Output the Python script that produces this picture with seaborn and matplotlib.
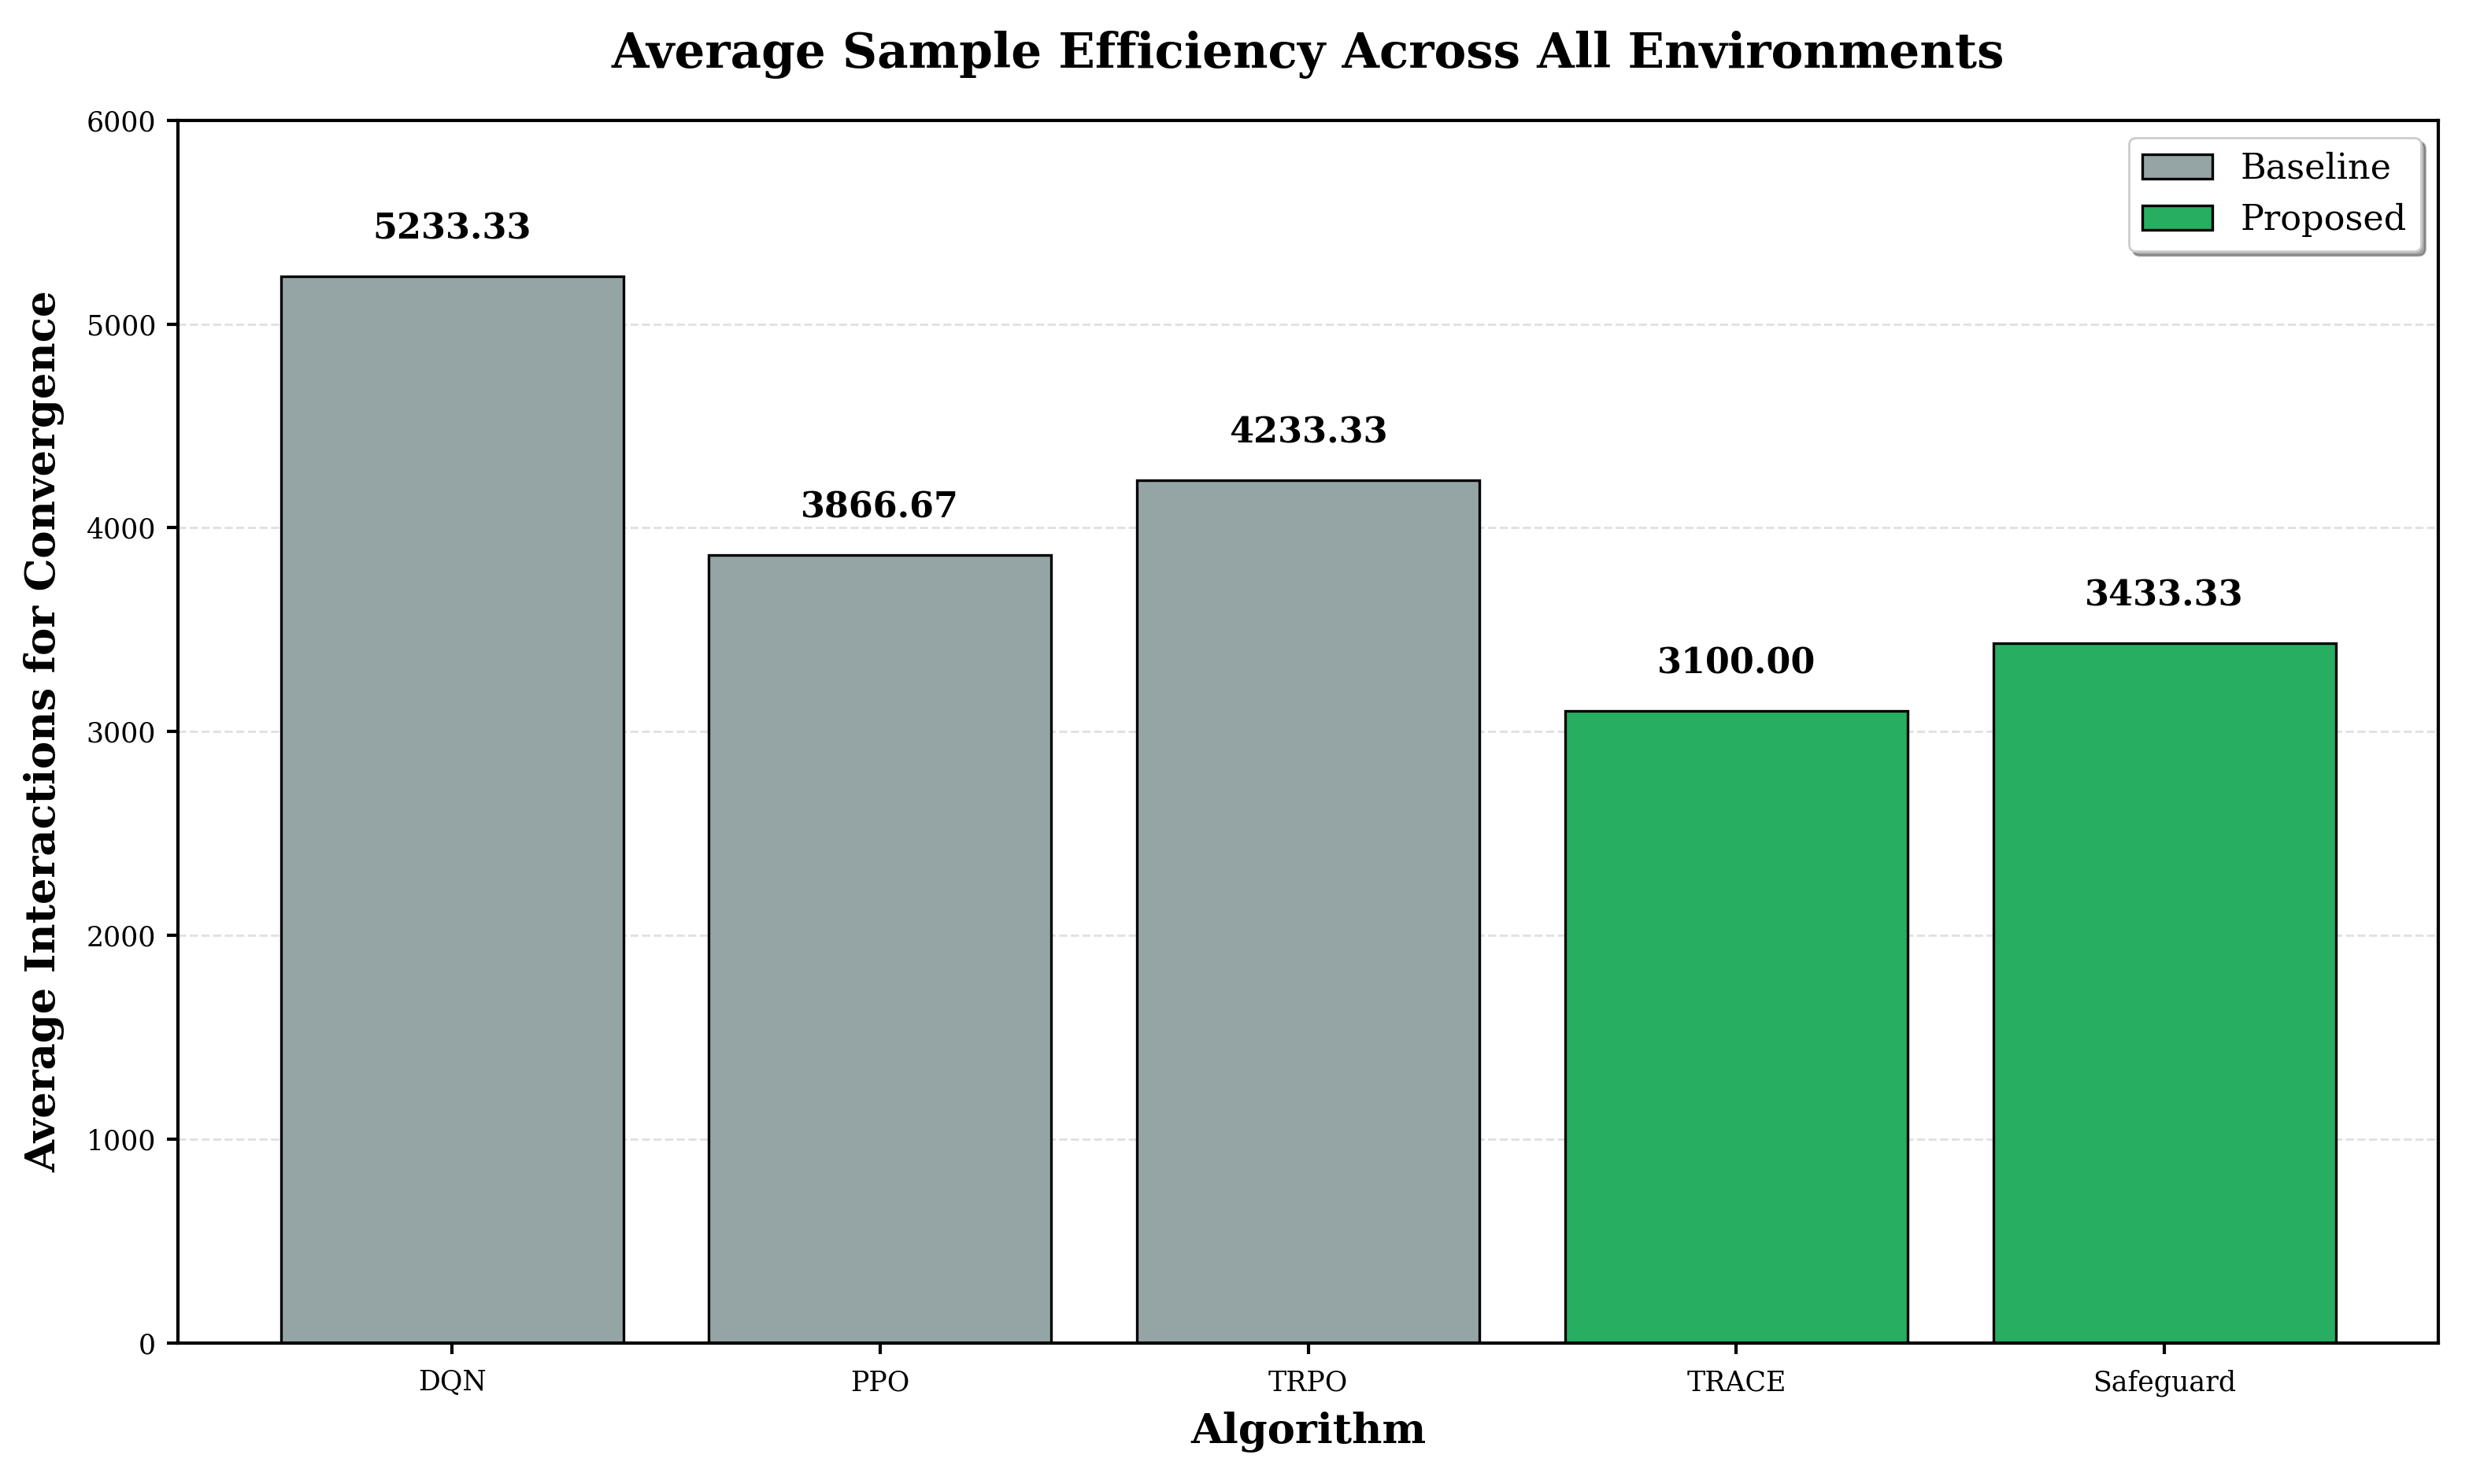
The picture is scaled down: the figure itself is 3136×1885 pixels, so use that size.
import matplotlib
matplotlib.use("Agg")
import matplotlib.pyplot as plt
import seaborn as sns
import pandas as pd

algorithms = ["DQN", "PPO", "TRPO", "TRACE", "Safeguard"]
interactions = [5233.33, 3866.67, 4233.33, 3100.00, 3433.33]
groups = ["Baseline", "Baseline", "Baseline", "Proposed", "Proposed"]
yticks = [0, 1000, 2000, 3000, 4000, 5000, 6000]

sns.set_style("white")
plt.rcParams["font.family"] = ["DejaVu Serif"]
plt.rcParams["text.color"] = "black"
plt.rcParams["axes.labelcolor"] = "black"
plt.rcParams["xtick.color"] = "black"
plt.rcParams["ytick.color"] = "black"

df = pd.DataFrame({"Algorithm": algorithms, "Value": interactions, "Group": groups})

fig = plt.figure(figsize=(15.68, 9.425), dpi=200)
ax = fig.add_axes([0.0721, 0.095, 0.9155, 0.824])

sns.barplot(data=df, x="Algorithm", y="Value", hue="Group",
            palette={"Baseline": "#95a5a6", "Proposed": "#27ae60"},
            dodge=False, width=0.8, edgecolor="black", linewidth=1.2,
            saturation=1, ax=ax)

for i, v in enumerate(interactions):
    ax.text(i, v + 150, f"{v:.2f}", ha="center", va="bottom",
            fontsize=16, fontweight="bold", color="black")

ax.set_xlim(-0.64, 4.64)
ax.set_ylim(0, 6000)
ax.set_yticks(yticks)
ax.tick_params(axis="both", labelsize=12.5, length=5, width=1.5, direction="out",
               left=True, bottom=True, colors="black")
ax.tick_params(axis="x", pad=7)
ax.tick_params(axis="y", pad=5)
ax.grid(axis="y", linestyle="--", color="#cccccc", alpha=0.6, linewidth=1)
ax.set_axisbelow(True)
for s in ax.spines.values():
    s.set_linewidth(1.5)
    s.set_color("black")

ax.set_xlabel("Algorithm", fontsize=19, fontweight="bold", labelpad=7)
ax.set_ylabel("Average Interactions for Convergence", fontsize=19, fontweight="bold", labelpad=10)
ax.set_title("Average Sample Efficiency Across All Environments",
             fontsize=22, fontweight="bold", pad=24)

leg = ax.legend(loc="upper right", fontsize=16, shadow=True, fancybox=True,
                framealpha=1, title=None)

fig.savefig("out.png", dpi=200)
